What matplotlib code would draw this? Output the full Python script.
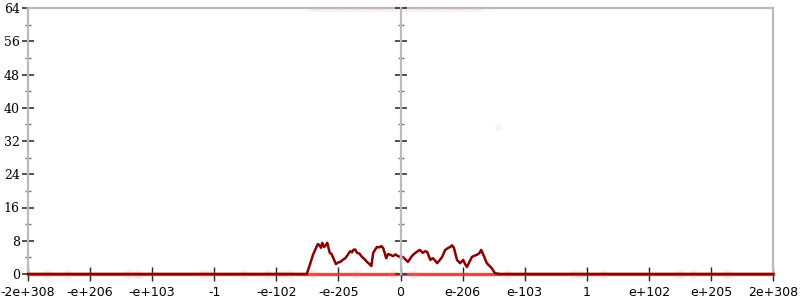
import numpy as np
import matplotlib
matplotlib.use("Agg")
import matplotlib.pyplot as plt

# ---------------- Data ----------------
# x is the position on the (non-linear) axis, one unit per tick label
tick_labels = ['-2e+308', '-e+206', '-e+103', '-1', '-e-102', '-e-205', '0',
               'e-206', 'e-103', '1', 'e+102', 'e+205', '2e+308']

line_x = [0.0, 4.49, 4.54, 4.59, 4.64, 4.67, 4.70, 4.72, 4.74, 4.77, 4.80, 4.82,
          4.86, 4.89, 4.91, 4.96, 5.00, 5.03, 5.07, 5.11, 5.15, 5.19, 5.22, 5.24,
          5.27, 5.30, 5.34, 5.38, 5.42, 5.46, 5.50, 5.53, 5.56, 5.59, 5.62, 5.66,
          5.69, 5.72, 5.77, 5.80, 5.84, 5.88, 5.92, 5.96, 6.01, 6.04, 6.08, 6.12,
          6.16, 6.20, 6.25, 6.31, 6.36, 6.40, 6.43, 6.48, 6.52, 6.56, 6.59, 6.63,
          6.67, 6.72, 6.76, 6.80, 6.83, 6.86, 6.91, 6.96, 7.01, 7.04, 7.07, 7.11,
          7.15, 7.19, 7.23, 7.27, 7.30, 7.35, 7.39, 7.43, 7.47, 7.52, 7.60, 12.0]
line_y = [0, 0, 2.2, 4.6, 6.3, 7.2, 6.8, 6.3, 7.5, 6.5, 7.0, 7.5,
          5.1, 4.8, 4.1, 2.4, 2.8, 2.9, 3.4, 3.8, 4.6, 5.5, 5.2, 5.8,
          5.9, 5.1, 4.9, 4.1, 3.6, 2.9, 2.4, 1.9, 5.1, 5.8, 6.5, 6.4,
          6.7, 6.3, 3.8, 4.8, 4.6, 4.3, 4.7, 4.3, 4.0, 4.1, 3.5, 2.9,
          3.8, 4.6, 5.2, 5.8, 5.1, 5.5, 5.3, 3.4, 3.8, 3.2, 2.6, 3.3,
          4.1, 5.8, 6.2, 6.5, 6.9, 6.3, 3.4, 2.6, 3.4, 2.4, 1.7, 2.9,
          4.1, 4.4, 4.6, 5.0, 5.8, 4.1, 2.6, 2.0, 1.4, 0.2, 0, 0]

# faint samples along the bottom and clipped at the top
low_x = [0.31, 0.63, 1.61, 1.77, 2.80, 2.90, 3.46, 3.85, 4.09, 4.22, 4.59,
         5.27, 5.88, 6.20, 7.73, 8.78, 8.89, 9.26, 10.50, 10.71, 11.26]
high_x = [4.58, 4.64, 4.71, 4.79, 4.87, 4.95, 5.03, 5.11, 5.19, 5.27, 5.35,
          5.43, 5.51, 5.59, 5.67, 5.75, 5.83, 5.91, 6.07, 6.15, 6.23, 6.31,
          6.40, 6.48, 6.56, 6.64, 6.72, 6.80, 6.88, 6.96, 7.04, 7.12, 7.20, 7.28]
mid_x = [7.57]
mid_y = [35.4]

# ---------------- Plot ----------------
fig = plt.figure(figsize=(8, 3), dpi=100)
ax = fig.add_axes([28/800, 26/300, 745/800, 266/300])

ax.set_xlim(0, 12)
ax.set_ylim(0, 64)

ax.axhline(0, color='#ee3030', lw=2.4, alpha=0.9, zorder=2, clip_on=False)
ax.scatter(low_x, [0]*len(low_x), s=45, color='#ff8080', alpha=0.15, lw=0,
           zorder=2, clip_on=False)
ax.scatter(high_x, [64]*len(high_x), s=30, color='#ff5050', alpha=0.08, lw=0, zorder=2)
ax.scatter(mid_x, mid_y, s=25, color='#ff8080', alpha=0.1, lw=0, zorder=2)
ax.plot(line_x, line_y, color='#8b0000', lw=1.8, zorder=3, clip_on=False)

# frame
for s in ['left', 'right', 'top']:
    ax.spines[s].set_color('#bbbbbb')
    ax.spines[s].set_linewidth(1.6)
ax.spines['bottom'].set_visible(False)

ax.set_xticks(range(len(tick_labels)))
ax.set_xticklabels(tick_labels, fontsize=9, family='DejaVu Sans')
ax.set_yticks(np.arange(0, 65, 8))
ax.set_yticks(np.arange(4, 64, 8), minor=True)
for lab in ax.get_yticklabels():
    lab.set_family('DejaVu Serif')
    lab.set_fontsize(9)

ax.tick_params(axis='x', direction='inout', length=10, width=1, color='#222222', pad=4)
ax.tick_params(axis='y', which='major', direction='inout', left=True, right=True,
               length=8, width=1.2, color='#333333', pad=2)
ax.tick_params(axis='y', which='minor', direction='inout', left=True, right=True,
               length=5, width=1, color='#777777')

# center axis
ax2 = ax.twinx()
ax2.set_ylim(0, 64)
for s in ['left', 'top', 'bottom']:
    ax2.spines[s].set_visible(False)
ax2.spines['right'].set_position(('axes', 0.5))
ax2.spines['right'].set_color('#bbbbbb')
ax2.spines['right'].set_linewidth(1.6)
ax2.set_yticks(np.arange(0, 65, 8))
ax2.set_yticks(np.arange(4, 64, 8), minor=True)
ax2.tick_params(axis='y', which='major', direction='inout', length=8, width=1.2,
                color='#333333', labelright=False)
ax2.tick_params(axis='y', which='minor', direction='inout', length=5, width=1,
                color='#777777')

fig.savefig('out.png', dpi=100)
